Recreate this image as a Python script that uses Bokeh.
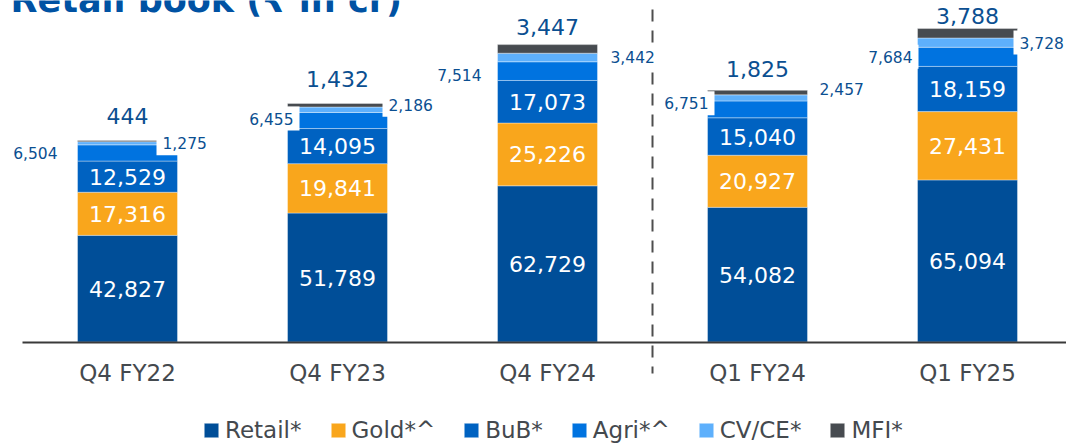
import numpy as np
from bokeh.plotting import figure
from bokeh.models import Range1d, FixedTicker, ColumnDataSource, Label
from bokeh.core.properties import value
from bokeh.embed import file_html
from bokeh.resources import INLINE

# ---------------- data ----------------
categories = ["Q4 FY22", "Q4 FY23", "Q4 FY24", "Q1 FY24", "Q1 FY25"]
retail = [42827, 51789, 62729, 54082, 65094]
gold = [17316, 19841, 25226, 20927, 27431]
bub = [12529, 14095, 17073, 15040, 18159]
agri = [6504, 6455, 7514, 6751, 7684]
cvce = [1275, 2186, 3442, 2457, 3728]
mfi = [444, 1432, 3447, 1825, 3788]
series_names = ["Retail*", "Gold*^", "BuB*", "Agri*^", "CV/CE*", "MFI*"]
title_text = "Retail book (\u20b9 in cr)"

# ---------------- styles / layout ----------------
colors = ["#004e98", "#f9a61c", "#0062c1", "#0073e0", "#5eb0fc", "#474b50"]
label_blue = "#0b4f91"
font = "DejaVu Sans"
left_dx = [-64, -38, -60, -43, -49]   # px offsets of Agri labels from bar centre
left_dy = [0, -2, 4, -6, 0]
right_dx = [29, 45, 57, 56, 46]       # px offsets of CV/CE labels from bar centre
right_dy = [0, -5, 0, -9, 0]
top_dy = [25, 24, 18, 21, 13]         # px lift of MFI labels above bar top

W, H = 1066, 446
idx = list(range(len(categories)))
cols = ["retail", "gold", "bub", "agri", "cvce", "mfi"]
vals = [retail, gold, bub, agri, cvce, mfi]
arr = np.array(vals, dtype=float)
cum = np.cumsum(arr, axis=0)
mid = cum - arr / 2.0
total = cum[-1]

src = ColumnDataSource(dict(x=idx, **{c: v for c, v in zip(cols, vals)}))

x_start, x_end = -0.6048, 4.4714
y_start, y_end = -41968, 137149

p = figure(width=W, height=H,
           x_range=Range1d(x_start, x_end), y_range=Range1d(y_start, y_end),
           output_backend="svg", toolbar_location=None,
           y_axis_location=None,
           min_border_left=0, min_border_right=0, min_border_top=0,
           min_border_bottom=0)
p.outline_line_color = None
p.xgrid.visible = False
p.ygrid.visible = False
p.background_fill_color = "white"
p.border_fill_color = "white"

# divider between Q4 and Q1 groups (drawn first so labels sit above it)
div_x = (idx[2] + idx[3]) / 2.0
p.segment(x0=[div_x], y0=[133500], x1=[div_x], y1=[-12650],
          line_color="#4d4d4d", line_width=2, line_dash="12 9")

p.vbar_stack(cols, x="x", width=0.476, color=colors, source=src,
             legend_label=series_names, line_color="white",
             line_width=0.6, line_alpha=0.6)

# axis, drawn at value 0 inside the frame
ax = p.xaxis[0]
ax.fixed_location = 0
ax.bounds = (-0.5, x_end)
ax.ticker = FixedTicker(ticks=idx)
ax.major_label_overrides = {i: c for i, c in zip(idx, categories)}
ax.major_tick_line_color = None
ax.minor_tick_line_color = None
ax.axis_line_color = "#3a3a3a"
ax.axis_line_width = 2
ax.major_label_text_font = font
ax.major_label_text_font_size = "23px"
ax.major_label_text_color = "#44494e"
ax.major_label_standoff = 12

# inside labels (Retail, Gold, BuB)
for k in range(3):
    s = ColumnDataSource(dict(x=idx, y=list(mid[k]),
                              t=[f"{v:,}" for v in vals[k]]))
    p.text(x="x", y="y", text="t", source=s, text_color="white",
           text_font=value(font), text_font_size="22px",
           text_align="center", text_baseline="middle")

# Agri labels on the left
s_left = ColumnDataSource(dict(x=idx, y=list(mid[3]), dx=left_dx, dy=left_dy,
                               t=[f"{v:,}" for v in agri]))
p.text(x="x", y="y", text="t", x_offset="dx", y_offset="dy", source=s_left,
       text_color=label_blue, text_font=value(font), text_font_size="15.5px",
       text_align="right", text_baseline="middle",
       background_fill_color="white", padding=6)

# CV/CE labels on the right
s_right = ColumnDataSource(dict(x=idx, y=list(mid[4]), dx=right_dx, dy=right_dy,
                                t=[f"{v:,}" for v in cvce]))
p.text(x="x", y="y", text="t", x_offset="dx", y_offset="dy", source=s_right,
       text_color=label_blue, text_font=value(font), text_font_size="15.5px",
       text_align="left", text_baseline="middle",
       background_fill_color="white", padding=6)

# MFI labels on top
s_top = ColumnDataSource(dict(x=idx, y=list(total), dy=[-d for d in top_dy],
                              t=[f"{v:,}" for v in mfi]))
p.text(x="x", y="y", text="t", y_offset="dy", source=s_top,
       text_color=label_blue, text_font=value(font), text_font_size="22px",
       text_align="center", text_baseline="middle")

# title (cropped at the top in the reference)
p.add_layout(Label(x=10, y=447, x_units="screen", y_units="screen",
                   text=title_text, text_font=font, text_font_size="35px",
                   text_font_style="bold", text_color="#0052a3",
                   text_baseline="alphabetic"))

# legend
lg = p.legend[0]
lg.orientation = "horizontal"
lg.location = (202, 3)
lg.glyph_width = 18
lg.glyph_height = 18
lg.label_standoff = 5
lg.spacing = 27
lg.padding = 0
lg.margin = 0
lg.border_line_color = None
lg.background_fill_alpha = 0
lg.label_text_font = font
lg.label_text_font_size = "23px"
lg.label_text_color = "#44494e"

open("out.html", "w").write(file_html(p, INLINE))
